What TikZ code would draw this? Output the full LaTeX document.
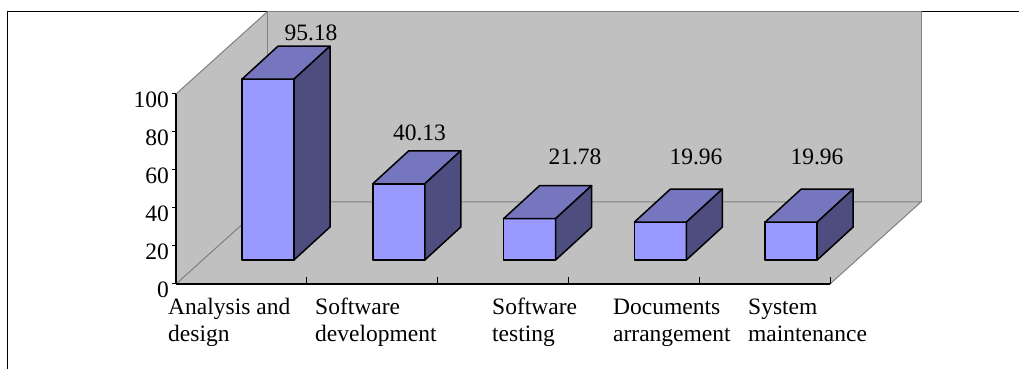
\documentclass[tikz,border=0pt]{standalone}
\usepackage{fontspec}
\setmainfont{Liberation Serif}
\usepackage{xcolor}
\definecolor{wallgrey}{HTML}{C0C0C0}
\definecolor{edgegrey}{HTML}{808080}
\definecolor{barfront}{HTML}{9999FF}
\definecolor{bartop}{HTML}{7676BF}
\definecolor{barside}{HTML}{4D4D80}

\begin{document}
\begin{tikzpicture}[x=1pt, y=1pt, font=\fontsize{23.5}{26.5}\selectfont,
    barface/.style={draw=black, line width=1.5pt, line join=round}]
  \useasboundingbox (-176,-85) rectangle (843,284);

  % frame
  \draw[line width=1.2pt] (843,272.7) -- (-168.5,272.7) -- (-168.5,-85);

  % walls and floor
  \fill[wallgrey] (0,0) -- (0,190) -- (91,272) -- (745,272) -- (745,82) -- (654,0) -- cycle;
  \draw[edgegrey, line width=1pt] (0,0) -- (91,82) -- (745,82) -- (654,0);
  \draw[edgegrey, line width=1pt] (91,82) -- (91,272) -- (745,272) -- (745,82);
  \draw[edgegrey, line width=1pt] (0,190) -- (91,272);

  % y axis
  \draw[line width=1.4pt] (0,0) -- (0,190);
  \foreach \v in {0,20,...,100}{
    \draw[line width=1pt] (-4,1.9*\v) -- (0,1.9*\v);
    \node[left, inner sep=0pt] (ytick\v) at (-7,1.9*\v-6) {\v};
  }

  % x axis
  \draw[line width=1.4pt] (0,0) -- (654,0);
  \foreach \i in {1,...,5}
    \draw[line width=1pt] (130.8*\i,0) -- (130.8*\i,7);

  % bars: index, value, label x, label y
  \foreach \i/\v/\lx/\ly in {%
    0/95.18/135/251,
    1/40.13/243.5/151,
    2/21.78/399/127,
    3/19.96/520/127,
    4/19.96/641/127}{
      \pgfmathsetmacro{\xl}{66+130.8*\i}
      \pgfmathsetmacro{\xr}{\xl+52}
      \pgfmathsetmacro{\yt}{24+1.9*\v}
      \filldraw[barface, fill=barfront] (\xl,24) rectangle (\xr,\yt);
      \filldraw[barface, fill=bartop] (\xl,\yt) -- (\xl+36,\yt+33) -- (\xr+36,\yt+33) -- (\xr,\yt) -- cycle;
      \filldraw[barface, fill=barside] (\xr,24) -- (\xr+36,57) -- (\xr+36,\yt+33) -- (\xr,\yt) -- cycle;
      \node[inner sep=0pt] (val\i) at (\lx,\ly) {\v};
  }

  % categories (base = last line)
  \foreach \i/\cx/\nm in {%
    1/-8/{Analysis and\\design},
    2/139/{Software\\development},
    3/316/{Software\\testing},
    4/437/{Documents\\arrangement},
    5/572/{System\\maintenance}}{
      \node[anchor=base west, align=left, inner sep=0pt] (cat\i) at (\cx,-57) {\nm};
  }
\end{tikzpicture}
\end{document}
